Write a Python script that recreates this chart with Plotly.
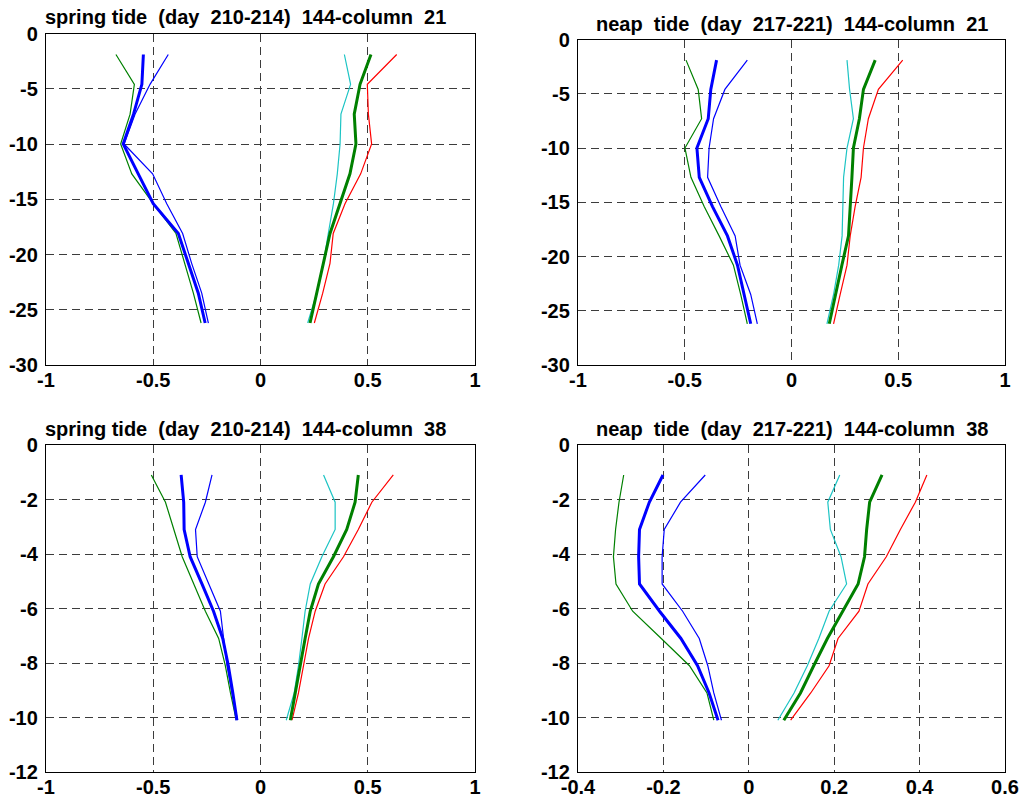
import plotly.graph_objects as go

# Depth levels (m) of the model layers in each column
depth_c21 = [-1.9, -4.6, -7.3, -10.0, -12.7, -15.4, -18.1, -20.8, -23.5, -26.2]
depth_c38 = [-1.1, -2.1, -3.1, -4.1, -5.1, -6.1, -7.1, -8.1, -9.1, -10.1]

# Column 21, spring tide (day 210-214)
s21_blue_mean = [-0.546, -0.553, -0.592, -0.640, -0.570, -0.500, -0.383, -0.336, -0.290, -0.258]
s21_blue_thin = [-0.430, -0.515, -0.585, -0.636, -0.503, -0.437, -0.363, -0.321, -0.274, -0.243]
s21_green_thin = [-0.674, -0.588, -0.608, -0.652, -0.600, -0.500, -0.394, -0.352, -0.313, -0.277]
s21_green_mean = [0.515, 0.464, 0.437, 0.445, 0.417, 0.371, 0.324, 0.293, 0.262, 0.231]
s21_red = [0.635, 0.498, 0.503, 0.518, 0.467, 0.394, 0.339, 0.324, 0.290, 0.251]
s21_cyan = [0.391, 0.420, 0.375, 0.371, 0.358, 0.340, 0.316, 0.293, 0.262, 0.220]

# Column 21, neap tide (day 217-221)
n21_blue_mean = [-0.351, -0.378, -0.390, -0.443, -0.432, -0.370, -0.300, -0.253, -0.222, -0.191]
n21_blue_thin = [-0.207, -0.312, -0.365, -0.386, -0.393, -0.331, -0.264, -0.241, -0.191, -0.160]
n21_green_thin = [-0.494, -0.437, -0.421, -0.499, -0.471, -0.409, -0.339, -0.272, -0.238, -0.207]
n21_green_mean = [0.392, 0.337, 0.318, 0.290, 0.283, 0.275, 0.267, 0.236, 0.205, 0.177]
n21_red = [0.521, 0.407, 0.360, 0.337, 0.326, 0.298, 0.275, 0.260, 0.228, 0.197]
n21_cyan = [0.260, 0.272, 0.290, 0.260, 0.244, 0.239, 0.237, 0.221, 0.197, 0.166]

# Column 38, spring tide (day 210-214)
s38_blue_mean = [-0.370, -0.358, -0.356, -0.328, -0.273, -0.219, -0.176, -0.150, -0.129, -0.110]
s38_blue_thin = [-0.226, -0.257, -0.303, -0.295, -0.241, -0.187, -0.172, -0.156, -0.133, -0.107]
s38_green_thin = [-0.509, -0.443, -0.404, -0.365, -0.311, -0.257, -0.195, -0.164, -0.140, -0.113]
s38_green_mean = [0.456, 0.441, 0.402, 0.340, 0.270, 0.232, 0.208, 0.185, 0.162, 0.139]
s38_red = [0.619, 0.519, 0.456, 0.387, 0.301, 0.255, 0.224, 0.200, 0.177, 0.147]
s38_cyan = [0.294, 0.348, 0.348, 0.286, 0.232, 0.208, 0.193, 0.177, 0.157, 0.120]

# Column 38, neap tide (day 217-221)
n38_blue_mean = [-0.201, -0.233, -0.256, -0.258, -0.256, -0.209, -0.159, -0.120, -0.093, -0.072]
n38_blue_thin = [-0.102, -0.160, -0.198, -0.203, -0.203, -0.155, -0.116, -0.096, -0.082, -0.064]
n38_green_thin = [-0.293, -0.304, -0.312, -0.317, -0.311, -0.272, -0.205, -0.139, -0.098, -0.082]
n38_green_mean = [0.312, 0.283, 0.276, 0.271, 0.256, 0.219, 0.184, 0.152, 0.121, 0.082]
n38_red = [0.417, 0.390, 0.355, 0.322, 0.279, 0.258, 0.209, 0.188, 0.145, 0.098]
n38_cyan = [0.213, 0.185, 0.191, 0.216, 0.229, 0.188, 0.164, 0.137, 0.106, 0.068]

titles = [
    "spring tide  (day  210-214)  144-column  21",
    "neap  tide  (day  217-221)  144-column  21",
    "spring tide  (day  210-214)  144-column  38",
    "neap  tide  (day  217-221)  144-column  38",
]

x_ticks_wide = [-1, -0.5, 0, 0.5, 1]
x_ticks_wide_text = ["-1", "-0.5", "0", "0.5", "1"]
x_ticks_narrow = [-0.4, -0.2, 0, 0.2, 0.4, 0.6]
x_ticks_narrow_text = ["-0.4", "-0.2", "0", "0.2", "0.4", "0.6"]
y_ticks_deep = [-30, -25, -20, -15, -10, -5, 0]
y_ticks_shallow = [-12, -10, -8, -6, -4, -2, 0]

BLUE = "#0000ff"
GREEN = "#008000"
RED = "#ff0000"
CYAN = "#1cc4c4"

panels = [
    (depth_c21, s21_blue_thin, s21_blue_mean, s21_green_thin, s21_cyan, s21_red, s21_green_mean),
    (depth_c21, n21_blue_thin, n21_blue_mean, n21_green_thin, n21_cyan, n21_red, n21_green_mean),
    (depth_c38, s38_blue_thin, s38_blue_mean, s38_green_thin, s38_cyan, s38_red, s38_green_mean),
    (depth_c38, n38_blue_thin, n38_blue_mean, n38_green_thin, n38_cyan, n38_red, n38_green_mean),
]

W, H = 1026, 800
# plot boxes in pixels: left, right, top, bottom
boxes = [
    (46, 475, 33.5, 365),
    (578, 1005, 39.5, 365),
    (46, 475, 445, 772),
    (578, 1005, 445, 772),
]

fig = go.Figure()
FONT = "Liberation Sans, Arial, sans-serif"

for i, (dep, bthin, bmean, gthin, cy, rd, gmean) in enumerate(panels):
    n = "" if i == 0 else str(i + 1)
    xa, ya = "x" + n, "y" + n
    series = [
        (bthin, BLUE, 1.2),
        (gthin, GREEN, 1.2),
        (bmean, BLUE, 3),
        (cy, CYAN, 1.2),
        (rd, RED, 1.2),
        (gmean, GREEN, 3),
    ]
    for vals, col, w in series:
        fig.add_trace(go.Scatter(x=vals, y=dep, mode="lines",
                                 line=dict(color=col, width=w),
                                 xaxis=xa, yaxis=ya, showlegend=False,
                                 hoverinfo="skip"))

    l, r, t, b = boxes[i]
    narrow = i == 3
    deep = i < 2
    common = dict(showline=True, linecolor="black", linewidth=1.3, mirror=True,
                  showgrid=True, gridcolor="#3c3c3c", gridwidth=1.1,
                  griddash="8px,5px", zeroline=False, ticks="",
                  automargin=False,
                  tickfont=dict(family=FONT, size=20, color="black", weight="bold"))
    fig.layout["xaxis" + n] = dict(
        common,
        domain=[l / W, r / W],
        anchor=ya,
        range=[-0.4, 0.6] if narrow else [-1, 1],
        tickvals=x_ticks_narrow if narrow else x_ticks_wide,
        ticktext=x_ticks_narrow_text if narrow else x_ticks_wide_text,
        ticklabelstandoff=-3,
    )
    fig.layout["yaxis" + n] = dict(
        common,
        domain=[1 - b / H, 1 - t / H],
        anchor=xa,
        range=[-30, 0] if deep else [-12, 0],
        tickvals=y_ticks_deep if deep else y_ticks_shallow,
        ticktext=[str(v) for v in (y_ticks_deep if deep else y_ticks_shallow)],
        ticklabelstandoff=3,
    )
    fig.add_annotation(text=titles[i], xref="paper", yref="paper",
                       x=((l + r) / 2 - 15 if i % 2 == 0 else (l + r) / 2) / W,
                       y=1 - (t - 3) / H, xanchor="center", yanchor="bottom",
                       showarrow=False,
                       font=dict(family=FONT, size=20, color="black", weight="bold"))

fig.update_layout(width=W, height=H, margin=dict(l=0, r=0, t=0, b=0),
                  paper_bgcolor="white", plot_bgcolor="white")

fig.write_html("out.html")
